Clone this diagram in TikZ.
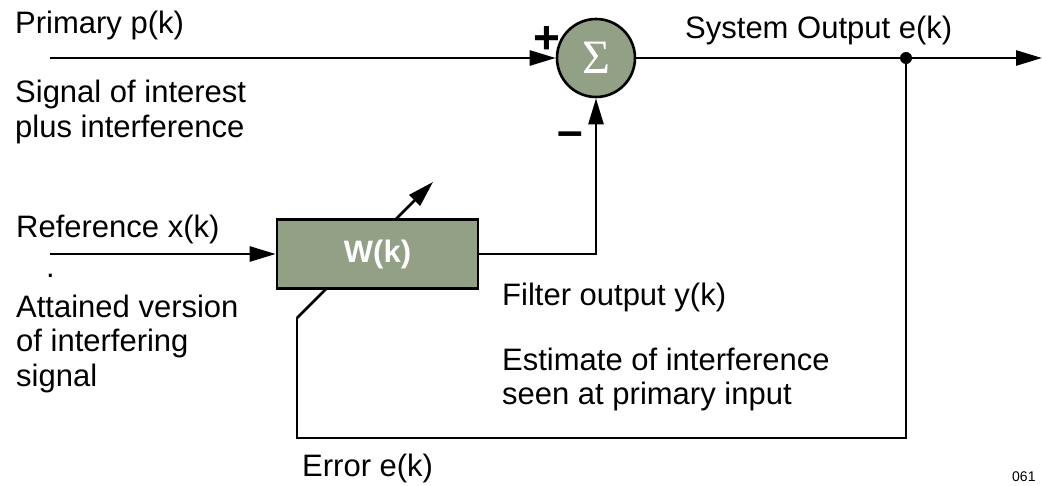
\documentclass[tikz,border=0pt]{standalone}
\usepackage{fontspec}
\setmainfont{Liberation Sans}
\newfontfamily\sigmafont{Liberation Serif}
\usetikzlibrary{arrows.meta}
\definecolor{boxgreen}{RGB}{146,160,134}
\tikzset{
  lbl/.style={anchor=base west, inner sep=0pt, font=\fontsize{31}{35}\selectfont},
  wire/.style={line width=2.6pt, black},
  arr/.style={wire, -{Triangle[length=26pt,width=15pt]}},
  blk/.style={draw=black, line width=2.6pt, fill=boxgreen, inner sep=0pt},
  sign/.style={inner sep=0pt, font=\fontsize{46}{46}\selectfont\bfseries}
}
\begin{document}
\begin{tikzpicture}[x=1pt,y=-1pt]
\useasboundingbox (0,0) rectangle (1042,485);

% coordinates
\coordinate (pin) at (50,58);
\coordinate (xin) at (50,254);
\coordinate (out) at (1042,58);
\coordinate (tap) at (906,58);
\coordinate (fbr) at (906,438);
\coordinate (fbl) at (297,438);
\coordinate (fbk) at (297,318);
\coordinate (adapt) at (433,182);

% adaptation arrow (behind the filter box)
\draw[arr] (fbk) -- (adapt);

% blocks
\node[blk, circle, minimum size=78pt] (sum) at (596,58)
  {\textcolor{white}{\sigmafont\fontsize{48}{48}\selectfont Σ}};
\node[blk, rectangle, minimum width=201pt, minimum height=69pt] (w) at (377.5,254)
  {\textcolor{white}{\fontsize{31}{31}\selectfont\bfseries W(k)}};

% connectors
\draw[arr] (pin) -- (sum.west);
\draw[arr] (xin) -- (w.west);
\draw[arr] (w.east) -| (sum.south);
\draw[arr] (sum.east) -- (out);
\draw[wire] (tap) -- (fbr) -- (fbl) -- (fbk);
\fill (tap) circle (6pt);

% signs
\node[sign] (plus) at (547,40) {+};
\node[sign] (minus) at (570,139) {–};

% labels
\node[lbl] (l1) at (15,33) {Primary p(k)};
\node[lbl] (l2) at (15,102) {Signal of interest};
\node[lbl] (l3) at (15,137) {plus interference};
\node[lbl] (l4) at (16,237) {Reference x(k)};
\node[lbl] (dot) at (46,277) {.};
\node[lbl] (l5) at (16,317) {Attained version};
\node[lbl] (l6) at (16,351) {of interfering};
\node[lbl] (l7) at (16,386) {signal};
\node[lbl] (l8) at (502,305) {Filter output y(k)};
\node[lbl] (l9) at (502,370) {Estimate of interference};
\node[lbl] (l10) at (502,404) {seen at primary input};
\node[lbl] (l11) at (685,38) {System Output e(k)};
\node[lbl] (l12) at (302,476) {Error e(k)};
\node[anchor=base west, inner sep=0pt, font=\fontsize{14}{14}\selectfont] (code) at (1012,481) {061};
\end{tikzpicture}
\end{document}
